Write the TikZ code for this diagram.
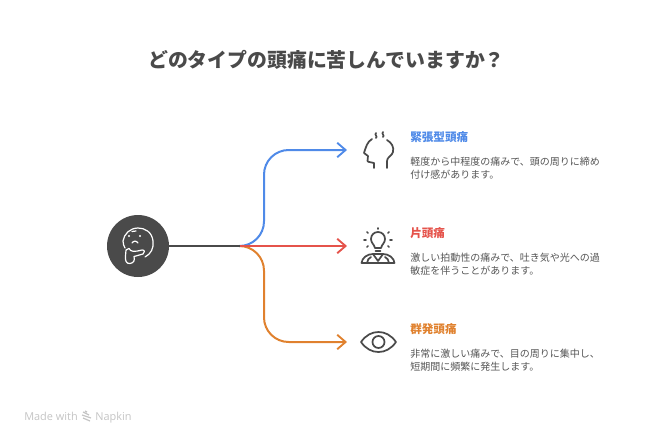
\documentclass[tikz,border=0pt]{standalone}
\usepackage{fontspec}
\setmainfont{Noto Sans CJK JP}
\newfontfamily\footfont{Open Sans}
\usetikzlibrary{arrows.meta, positioning}

\definecolor{inkdark}{HTML}{4A4A4A}
\definecolor{inkbody}{HTML}{555555}
\definecolor{tensionblue}{HTML}{4F8AE8}
\definecolor{migrainered}{HTML}{E5534B}
\definecolor{clusterorange}{HTML}{E0812E}
\definecolor{footgray}{HTML}{C4C4C4}

\begin{document}
\begin{tikzpicture}[
    x=0.75pt, y=-0.75pt,
    >={Straight Barb[length=2.2mm, width=3.8mm, line width=1.4pt]}, % Open chevron arrowheads
    hub/.style={circle, fill=inkdark, minimum size=46.5pt, inner sep=0pt}, % Dark disc on the left
    branch/.style={->, line width=1.5pt, rounded corners=18.5pt}, % Coloured branch lines
    heading/.style={anchor=north west, inner sep=0pt, font=\fontsize{8.7}{10}\selectfont\bfseries},
    bodytext/.style={anchor=north west, inner sep=0pt, align=left, text=inkbody, font=\fontsize{7.5}{9.75}\selectfont},
    icon/.style={draw=inkdark, line width=1.3pt, line cap=round, line join=round, fill=none},
    faceline/.style={draw=white, line width=0.9pt, line cap=round, line join=round, fill=none},
    footer/.style={anchor=base west, inner sep=0pt, text=footgray, font=\footfont\fontsize{8.2}{10}\selectfont}
]
    \useasboundingbox (0,0) rectangle (654,444);

    % === Title ===
    \node[font=\fontsize{14.9}{18}\selectfont\bfseries, text=inkdark, inner sep=0pt] (title) at (326.5,59.5) {どのタイプの頭痛に苦しんでいますか？};

    % === Coordinates for the branches ===
    \node[hub] (thinker) at (138,246) {};
    \coordinate (split) at (240,246);
    \coordinate (bend) at (264,246);
    \coordinate (tension_end) at (347,150);
    \coordinate (migraine_end) at (347,246);
    \coordinate (cluster_end) at (347,342);

    % === Branches ===
    \draw[branch, tensionblue] (split) -- (bend) |- (tension_end);
    \draw[branch, clusterorange] (split) -- (bend) |- (cluster_end);
    \draw[branch, migrainered] (split) -- (migraine_end);
    \draw[line width=1.5pt, inkdark] (thinker) -- (split);

    % === Thinking face inside the hub ===
    \draw[faceline] (145,257) .. controls (151,254) and (154,248) .. (153,241) .. controls (152,232) and (145,228) .. (138,228) .. controls (130,228) and (124,234) .. (123,241) .. controls (123,244) and (124,246) .. (125,248);
    \fill[white] (129,236) circle (1.1) (140,236) circle (1.1);
    \draw[faceline] (132,243) .. controls (134,240.5) and (136,240.5) .. (138,243);
    \draw[faceline] (132,231.5) -- (136,231);
    \draw[faceline] (126,250) -- (129,248.5) .. controls (131,252) and (134,252) .. (142,250) .. controls (145,249.5) and (145,253) .. (143,254) -- (134,256.5) .. controls (135,260) and (134,263) .. (130,263.5) .. controls (126,264) and (125,260) .. (125.5,256) -- (126,250);

    % === Tension headache ===
    \draw[icon] (372,139) .. controls (367,142) and (366,147) .. (364,153) -- (368,156) -- (367.5,161) .. controls (368,162.5) and (372,162) .. (374,163) -- (374,168);
    \draw[icon] (387,140) .. controls (392,143) and (394,147) .. (393,152) .. controls (392,156) and (387,157) .. (387,161) -- (387,168);
    \draw[icon] (376,133) .. controls (374,135) and (378,136) .. (376,138);
    \draw[icon] (383,132) .. controls (381,134) and (385,135) .. (383,137);
    \node[heading, text=tensionblue] (tension_title) at (410,131.5) {緊張型頭痛};
    \node[bodytext] (tension_text) at (410,156.5) {軽度から中程度の痛みで、頭の周りに締め\\付け感があります。};

    % === Migraine ===
    \draw[icon] (375,248) .. controls (374,244) and (371,243) .. (371,239) .. controls (371,235) and (374,232) .. (378,232) .. controls (382,232) and (385,235) .. (385,239) .. controls (385,243) and (382,244) .. (381,248) -- cycle;
    \draw[icon] (375.5,251) -- (380.5,251);
    \draw[icon] (378,228) -- (378,229) (367,232) -- (368,233) (389,232) -- (388,233) (364,240) -- (366,240) (392,240) -- (390,240) (367,247) -- (368,246) (389,247) -- (388,246);
    \draw[icon] (361.5,263) .. controls (362,258) and (367,254) .. (373,254) -- (383,254) .. controls (389,254) and (394,258) .. (394.5,263) -- cycle;
    \draw[icon] (373,254) -- (378,261) -- (383,254) (367,263) .. controls (367,260) and (369,258) .. (371,257) (389,263) .. controls (389,260) and (387,258) .. (385,257);
    \node[heading, text=migrainered] (migraine_title) at (410,227.5) {片頭痛};
    \node[bodytext] (migraine_text) at (410,252.5) {激しい拍動性の痛みで、吐き気や光への過\\敏症を伴うことがあります。};

    % === Cluster headache ===
    \draw[icon] (361,342) .. controls (366,335) and (372,332) .. (378.5,332) .. controls (385,332) and (391,335) .. (396,342) .. controls (391,349) and (385,352) .. (378.5,352) .. controls (372,352) and (366,349) .. (361,342) -- cycle;
    \draw[icon] (378.5,342) circle (6);
    \node[heading, text=clusterorange] (cluster_title) at (410,323.5) {群発頭痛};
    \node[bodytext] (cluster_text) at (410,348.5) {非常に激しい痛みで、目の周りに集中し、\\短期間に頻繁に発生します。};

    % === Footer ===
    \node[footer] (made_with) at (24,420) {Made with};
    \draw[footgray, line width=0.9pt] (83,412) -- (89,415) (82,415) -- (91,418) (83,418) -- (90,421) (85,411) -- (87,412);
    \node[footer] (napkin) at (95,420) {Napkin};
\end{tikzpicture}
\end{document}
